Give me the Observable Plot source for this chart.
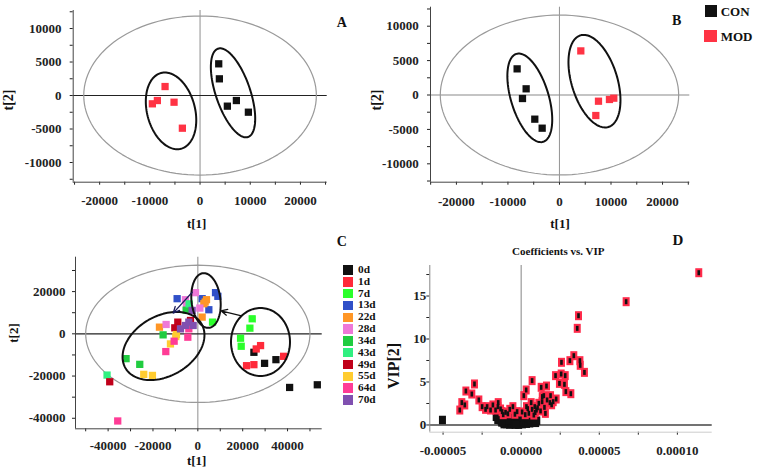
<!DOCTYPE html>
<html><head><meta charset="utf-8">
<script src="https://cdn.jsdelivr.net/npm/d3@7"></script>
<script src="https://cdn.jsdelivr.net/npm/@observablehq/plot@0.6"></script>
<style>
body{margin:0;background:#fff;}
#fig{position:relative;width:758px;height:469px;overflow:hidden;background:#fff;font-family:"Liberation Serif","Times New Roman",serif;font-weight:bold;color:#111;}
.lab{position:absolute;white-space:nowrap;transform:translate(-50%,-50%);line-height:1;}
.rot{transform:translate(-50%,-50%) rotate(-90deg);}
.lg{position:absolute;white-space:nowrap;line-height:1;transform:translateY(-50%);}
.sq{position:absolute;}
</style></head><body><div id="fig"></div>
<script>
// ---------- DATA ----------
// Panel A (PCA scores)
const scoresA_CON_t1 = [3720, 3850, 5440, 7240, 9630];
const scoresA_CON_t2 = [4730, 2490, -1590, -750, -2490];
const scoresA_MOD_t1 = [-6970, -8500, -9500, -5180, -3520];
const scoresA_MOD_t2 = [1340, -750, -1240, -1000, -4880];
// Panel B
const scoresB_CON_t1 = [-8220, -6470, -7180, -4790, -3360];
const scoresB_CON_t2 = [3800, 900, -510, -3510, -4820];
const scoresB_MOD_t1 = [4140, 7570, 7050, 9700, 10540];
const scoresB_MOD_t2 = [6410, -900, -2980, -650, -460];
const groupsAB = ["CON", "MOD"];
const colorsAB = ["#111111", "#ff3344"];
// Hotelling T2 ellipses (semi-axes t1, t2)
const hotellingA = [23170, 11870];
const hotellingB = [23130, 11620];
const hotellingC = [50000, 32500];
// Group ellipses: [centre t1, centre t2, axis1 t1, axis1 t2, axis2 t1, axis2 t2]
const clustersA = [[-5780, -2290, 1990, -5650, 4615, 915], [6570, 400, 2990, -6590, 3250, 830]];
const clustersB = [[-5760, -410, 2590, -6390, 3500, 790], [6790, 2010, 2720, -6655, 4250, 975]];
const clustersC = [[-15300, -5765, 16990, 10420, 6690, -12320], [3640, 15790, -1340, 12930, 6420, 760], [27940, -3870, 0, 16100, 13150, 0]];
// Trajectory arrows in C: [from t1, from t2, to t1, to t2]
const arrowsC = [[19500, 8500, 10300, 10900], [-2500, 19700, -11000, 9800]];
const arrowColorsC = ["#111111", "#1c1c5a"];
// Panel C (time course)
const daysC = ["0d", "1d", "7d", "13d", "22d", "28d", "34d", "43d", "49d", "55d", "64d", "70d"];
const dayColorsC = ["#111111", "#ff2a3a", "#2bff2b", "#3050c8", "#ff9626", "#ee78d8", "#20cc40", "#30f080", "#c0001a", "#ffcc30", "#ff3c96", "#8050b0"];
const scoresC_t1 = [
  [25000, 29760, 34820, 40920, 53270],
  [27970, 26040, 21720, 25000, 38240],
  [24250, 23210, 19050, 19340, 6550],
  [-9230, 1930, 7890, 8930, 4910],
  [3870, 2680, 1930, -17110, 3270],
  [-1040, 890, -5060, -14140, -5510],
  [-15480, -31990, -25890, -5200],
  [-40470, -3870],
  [-39280, -8930, -3270, -10270],
  [-9520, -12200, -24110, -20240, -9820],
  [-35710, -14280, -10560, -4460, -4020],
  [-2530, -4020, -2080, -7740, -5510]
];
const scoresC_t2 = [
  [-8750, -13980, -12240, -25400, -24140],
  [-5570, -7160, -15090, -14610, -10650],
  [7130, 2680, -2080, -5890, 5540],
  [16650, 16650, 19500, 17760, 11410],
  [16170, 14270, 7920, 3160, 15060],
  [19500, 12200, 13000, 4430, 16170],
  [-490, -11760, -14460, 11200],
  [-19540, 14210],
  [-22710, 5540, 6330, 2840],
  [-330, -4780, -19200, -19700, -1290],
  [-41280, -8410, -3490, -1600, 2370],
  [11090, 5540, 3950, 2360, 3950]
];
// Panel D (coefficients vs VIP)
const sigCoef = [1.137e-4, 6.72e-5, 3.67e-5, 3.59e-5, 3.37e-5, 3.12e-5, 3.76e-5, 3.78e-5, 4.05e-5, 2.58e-5,
  2.56e-5, 2.82e-5, 2.20e-5, 2.45e-5, 2.77e-5, 2.86e-5, 3.18e-5, 2.24e-5, 1.88e-5, 1.62e-5,
  1.28e-5, 7.0e-6, 3.2e-6, 1.7e-6, 1.45e-5, 1.84e-5, 1.34e-5, 1.13e-5, 8.7e-6, 6.4e-6,
  7.0e-6, 9.8e-6, 1.24e-5, 1.49e-5, 1.66e-5, 2.05e-5, 4.9e-6, 8.1e-6, 3.4e-6, -5.3e-6,
  -2.6e-6, 6e-7, -7.3e-6, -2.99e-5, -3.54e-5, -3.16e-5, -3.80e-5, -3.61e-5, -3.93e-5, -2.71e-5,
  -2.50e-5, -2.18e-5, -1.81e-5, -1.47e-5, -1.96e-5, -1.64e-5, -1.32e-5, -1.22e-5, -1.00e-5, -1.49e-5,
  -2.28e-5, 4.2e-6, 9.0e-6, 1.05e-5, 1.55e-5, 1.95e-5, 1.35e-5, 2.6e-6, -8.5e-6, -4.0e-6, -1.15e-5];
const sigVip = [17.71, 14.34, 12.71, 11.24, 8.06, 7.48, 7.48, 6.94, 6.12, 7.29,
  5.93, 5.74, 5.74, 4.84, 4.73, 3.88, 3.64, 3.02, 3.41, 4.53,
  4.38, 5.16, 4.07, 3.41, 3.41, 2.60, 2.71, 2.52, 2.13, 2.60,
  1.82, 1.74, 1.63, 2.05, 2.91, 2.71, 1.36, 1.16, 2.13, 2.13,
  1.55, 1.51, 1.82, 4.77, 3.95, 3.60, 2.60, 2.33, 1.74, 2.91,
  2.13, 2.13, 2.33, 2.60, 1.74, 1.74, 1.86, 1.55, 1.47, 2.13,
  1.82, 1.9, 1.45, 2.0, 1.35, 2.35, 3.3, 1.2, 1.3, 1.25, 1.2];
const otherCoef = [-1.41e-5, -1.38e-5, -1.30e-5, -1.28e-5, -1.22e-5, -1.15e-5, -1.12e-5, -1.05e-5, -1.0e-5, -9.4e-6,
  -9.0e-6, -8.3e-6, -7.9e-6, -7.4e-6, -7.0e-6, -6.4e-6, -6.0e-6, -5.5e-6, -5.0e-6, -4.6e-6,
  -4.1e-6, -3.8e-6, -3.3e-6, -2.9e-6, -2.5e-6, -2.0e-6, -1.6e-6, -1.2e-6, -7e-7, -2e-7,
  3e-7, 8e-7, 1.3e-6, 1.8e-6, 2.4e-6, 2.9e-6, 3.4e-6, 3.9e-6, 4.4e-6, 5.0e-6,
  5.5e-6, 6.2e-6, 6.8e-6, 7.4e-6, 8.0e-6, 8.7e-6, 9.3e-6, 1.0e-5, -1.6e-5, -1.5e-5,
  -1.45e-5, -1.35e-5, -1.2e-5, -1.1e-5, -8.8e-6, -3.5e-6, -1.52e-5, -1.25e-5, -9.6e-6, -6.8e-6,
  -5.04e-5];
const otherVip = [1.15, 0.85, 0.55, 1.2, 0.95, 0.3, 0.7, 1.1, 0.45, 0.12,
  0.85, 1.05, 0.38, 0.05, 0.68, 0.95, 0.22, 0.52, 0.82, 0.08,
  0.4, 1.0, 0.68, 0.18, 0.92, 0.48, 0.04, 0.78, 0.3, 0.98,
  0.6, 0.1, 0.85, 0.35, 0.98, 0.6, 0.15, 0.88, 0.45, 0.75,
  0.2, 0.55, 0.85, 0.35, 0.6, 0.4, 0.25, 0.5, 0.95, 0.6,
  1.4, 1.5, 1.35, 0.1, 0.6, 0.05, 1.25, 0.3, 1.3, 1.2,
  0.58];
// Axis ticks
const ticksAB_x = [-25000, -20000, -15000, -10000, -5000, 0, 5000, 10000, 15000, 20000, 25000];
const labelsAB_x = [-20000, -10000, 0, 10000, 20000];
const ticksAB_y = [-12500, -10000, -7500, -5000, -2500, 0, 2500, 5000, 7500, 10000, 12500];
const labelsAB_y = [-10000, -5000, 0, 5000, 10000];
const ticksC_x = [-50000, -40000, -30000, -20000, -10000, 0, 10000, 20000, 30000, 40000, 50000];
const labelsC_x = [-40000, -20000, 0, 20000, 40000];
const ticksC_y = [-40000, -30000, -20000, -10000, 0, 10000, 20000, 30000];
const labelsC_y = [-40000, -20000, 0, 20000];
const ticksD_x = [-0.00005, -0.000025, 0, 0.000025, 0.00005, 0.000075, 0.0001];
const labelsD_x = [-0.00005, 0, 0.00005, 0.0001];
const ticksD_y = [0, 2.5, 5, 7.5, 10, 12.5, 15, 17.5];
const labelsD_y = [0, 5, 10, 15];

// ---------- HELPERS ----------
const fig = document.getElementById("fig");
const FONT = '"Liberation Serif", "Times New Roman", serif';
function ellipsePts(cx, cy, ux, uy, vx, vy) {
  const pts = [];
  for (let k = 0; k <= 120; k++) {
    const t = (k / 120) * 2 * Math.PI;
    pts.push({x: cx + ux * Math.cos(t) + vx * Math.sin(t), y: cy + uy * Math.cos(t) + vy * Math.sin(t)});
  }
  return pts;
}
function rows(t1, t2, extra) { return t1.map((v, i) => Object.assign({x: v, y: t2[i]}, extra || {})); }
const rectSym = (w, h) => ({draw(ctx) { ctx.rect(-w / 2, -h / 2, w, h); }});

function panel(c) {
  const [x0, y0, x1, y1] = c.box;
  const svg = Plot.plot({
    width: c.width, height: c.height,
    marginLeft: x0 - c.left, marginRight: c.left + c.width - x1,
    marginTop: y0 - c.top, marginBottom: c.top + c.height - y1,
    x: {domain: c.xDomain, ticks: c.xTicks, tickFormat: d => c.xLabels.includes(d) ? c.fmtX(d) : "",
        tickSize: 3, tickPadding: c.xPad, label: null},
    y: {domain: c.yDomain, ticks: c.yTicks, tickFormat: d => c.yLabels.includes(d) ? String(d) : "",
        tickSize: 3, tickPadding: c.yPad, label: null},
    color: c.color,
    style: {background: "transparent", color: "#222", fontFamily: FONT, fontSize: c.fontSize + "px", fontWeight: "bold", overflow: "visible"},
    marks: c.marks
  });
  svg.style.position = "absolute";
  svg.style.left = c.left + "px";
  svg.style.top = c.top + "px";
  svg.style.width = c.width + "px";
  svg.style.height = c.height + "px";
  fig.appendChild(svg);
}
function label(text, x, y, size, rot) {
  const d = document.createElement("div");
  d.className = "lab" + (rot ? " rot" : "");
  d.textContent = text;
  d.style.left = x + "px"; d.style.top = y + "px"; d.style.fontSize = size + "px";
  fig.appendChild(d);
}
function legendItem(text, color, sx, sy, size, tx, fs) {
  const s = document.createElement("div");
  s.className = "sq";
  s.style.left = sx + "px"; s.style.top = (sy - size / 2) + "px";
  s.style.width = size + "px"; s.style.height = size + "px"; s.style.background = color;
  fig.appendChild(s);
  const t = document.createElement("div");
  t.className = "lg"; t.textContent = text;
  t.style.left = tx + "px"; t.style.top = sy + "px"; t.style.fontSize = fs + "px";
  fig.appendChild(t);
}

function scoreMarks(hot, clusters, con1, con2, mod1, mod2, hColor, vColor) {
  return [
    Plot.ruleX([0], {stroke: vColor, strokeWidth: 1.1}),
    Plot.ruleY([0], {stroke: hColor, strokeWidth: 1.2}),
    Plot.line(ellipsePts(0, 0, hot[0], 0, 0, hot[1]), {x: "x", y: "y", stroke: "#9a9a9a", strokeWidth: 1.2}),
    Plot.dot(rows(con1, con2, {g: "CON"}).concat(rows(mod1, mod2, {g: "MOD"})),
      {x: "x", y: "y", fill: "g", symbol: "square", r: 4.1}),
    ...clusters.map(e => Plot.line(ellipsePts(...e), {x: "x", y: "y", stroke: "#111", strokeWidth: 2})),
  ];
}

// ---------- PANEL A ----------
panel({
  left: 0, top: 0, width: 379, height: 240, box: [72.7, 10, 326.7, 181.7],
  xDomain: [-25270, 25330], yDomain: [-12940, 12690],
  xTicks: ticksAB_x, xLabels: labelsAB_x, yTicks: ticksAB_y, yLabels: labelsAB_y,
  fmtX: d => String(d), xPad: 10.5, yPad: 8.7, fontSize: 13,
  color: {domain: groupsAB, range: colorsAB},
  marks: [
    ...scoreMarks(hotellingA, clustersA, scoresA_CON_t1, scoresA_CON_t2, scoresA_MOD_t1, scoresA_MOD_t2, "#222", "#999"),
    Plot.ruleX([-25270], {stroke: "#444"}),
    Plot.ruleY([-12940], {stroke: "#444"})
  ]
});
// ---------- PANEL B ----------
panel({
  left: 380, top: 0, width: 378, height: 240, box: [430, 6.7, 689.3, 181.7],
  xDomain: [-25030, 25290], yDomain: [-12670, 12760],
  xTicks: ticksAB_x, xLabels: labelsAB_x, yTicks: ticksAB_y, yLabels: labelsAB_y,
  fmtX: d => String(d), xPad: 12, yPad: 8.7, fontSize: 13,
  color: {domain: groupsAB, range: colorsAB},
  marks: [
    ...scoreMarks(hotellingB, clustersB, scoresB_CON_t1, scoresB_CON_t2, scoresB_MOD_t1, scoresB_MOD_t2, "#8a8a8a", "#999"),
    Plot.ruleX([-25030], {stroke: "#444"}),
    Plot.ruleY([-12670], {stroke: "#444"})
  ]
});
// ---------- PANEL C ----------
const rowsC = daysC.flatMap((d, i) => rows(scoresC_t1[i], scoresC_t2[i], {day: d}));
panel({
  left: 0, top: 235, width: 379, height: 234, box: [75, 256.7, 321.7, 428.3],
  xDomain: [-54540, 55450], yDomain: [-44990, 36300],
  xTicks: ticksC_x, xLabels: labelsC_x, yTicks: ticksC_y, yLabels: labelsC_y,
  fmtX: d => String(d), xPad: 8.9, yPad: 7, fontSize: 13,
  color: {domain: daysC, range: dayColorsC},
  marks: [
    Plot.ruleX([0], {stroke: "#999", strokeWidth: 1.1}),
    Plot.ruleY([0], {stroke: "#222", strokeWidth: 1.2}),
    Plot.line(ellipsePts(0, 0, hotellingC[0], 0, 0, hotellingC[1]), {x: "x", y: "y", stroke: "#9a9a9a", strokeWidth: 1.2}),
    Plot.dot(rowsC, {x: "x", y: "y", fill: "day", symbol: "square", r: 4.1}),
    ...clustersC.map(e => Plot.line(ellipsePts(...e), {x: "x", y: "y", stroke: "#111", strokeWidth: 2})),
    Plot.arrow(arrowsC, {x1: d => d[0], y1: d => d[1], x2: d => d[2], y2: d => d[3],
      stroke: (d, i) => arrowColorsC[i], strokeWidth: 1.3, headLength: 8, headAngle: 50}),
    Plot.ruleX([-54540], {stroke: "#444"}),
    Plot.ruleY([-44990], {stroke: "#444"})
  ]
});
// ---------- PANEL D ----------
const otherRows = otherCoef.map((c, i) => ({x: c, y: otherVip[i]}));
const sigRows = sigCoef.map((c, i) => ({x: c, y: sigVip[i]}));
panel({
  left: 380, top: 235, width: 378, height: 234, box: [429.3, 265, 711.7, 431.7],
  xDomain: [-5.85e-5, 1.223e-4], yDomain: [-0.84, 18.55],
  xTicks: ticksD_x, xLabels: labelsD_x, yTicks: ticksD_y, yLabels: labelsD_y,
  fmtX: d => d.toFixed(5), xPad: 10.5, yPad: 0.5, fontSize: 13,
  marks: [
    Plot.ruleX([0], {y1: 0, y2: 18.55, stroke: "#999", strokeWidth: 1.2}),
    Plot.ruleY([0], {stroke: "#444", strokeWidth: 1.5}),
    Plot.dot(otherRows, {x: "x", y: "y", symbol: rectSym(7, 8.5), fill: "#111", stroke: "none"}),
    Plot.dot(sigRows, {x: "x", y: "y", symbol: rectSym(7, 9), fill: "#ff2a4a", stroke: "none"}),
    Plot.dot(sigRows, {x: "x", y: "y", symbol: rectSym(2.6, 5), fill: "#111", stroke: "none"}),
    Plot.ruleX([-5.85e-5], {stroke: "#888"}),
    Plot.ruleY([-0.84], {stroke: "#ccc"})
  ]
});

// ---------- TEXT ----------
label("t[2]", 8.5, 100, 14, true);
label("t[2]", 377, 100, 14, true);
label("t[1]", 196.7, 223.3, 13);
label("t[1]", 560, 222.7, 13);
label("A", 341.7, 22.7, 14);
label("B", 676.7, 21.3, 14);
legendItem("CON", colorsAB[0], 705, 10.8, 12, 720.7, 13);
legendItem("MOD", colorsAB[1], 704.3, 36, 12.5, 720.7, 13);
label("t[2]", 13.3, 333.3, 13, true);
label("t[1]", 196.7, 460, 13);
label("C", 341.7, 241.7, 14);
daysC.forEach((d, i) => legendItem(d, dayColorsC[i], 343, 270 + i * 11.82, 9.5, 358, 11.3));
label("D", 678, 240, 15);
label("Coefficients vs. VIP", 558.3, 250.7, 11);
label("VIP[2]", 394, 365.7, 16, true);
</script></body></html>
